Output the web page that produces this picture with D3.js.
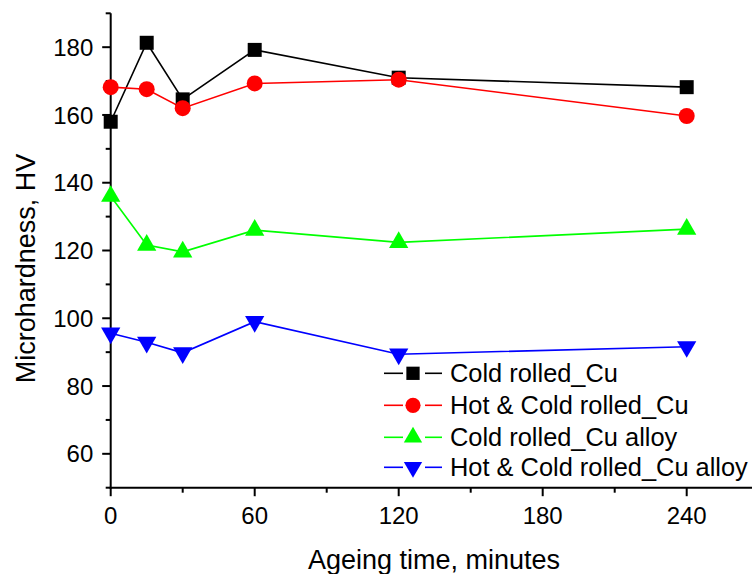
<!DOCTYPE html>
<html>
<head>
<meta charset="utf-8">
<script src="https://cdn.jsdelivr.net/npm/d3@7/dist/d3.min.js"></script>
<style>
  html, body { margin: 0; padding: 0; background: #fff; }
  svg { display: block; }
  text { font-family: "Liberation Sans", Arial, sans-serif; fill: #000; }
</style>
</head>
<body>
<svg id="chart" width="752" height="574"></svg>
<script>
// ---- data ----
const times = [0, 15, 30, 60, 120, 240];
const seriesNames = ["Cold rolled_Cu", "Hot & Cold rolled_Cu", "Cold rolled_Cu alloy", "Hot & Cold rolled_Cu alloy"];
const coldCu = [158.0, 181.3, 164.6, 179.2, 171.0, 168.2];
const hotColdCu = [168.2, 167.6, 162.0, 169.3, 170.4, 159.7];
const coldAlloy = [136.0, 121.6, 119.6, 126.0, 122.4, 126.3];
const hotColdAlloy = [95.6, 92.9, 89.8, 99.0, 89.4, 91.6];
const xTicks = [0, 60, 120, 180, 240];
const xMinor = [30, 90, 150, 210];
const yTicks = [60, 80, 100, 120, 140, 160, 180];
const yMinor = [50, 70, 90, 110, 130, 150, 170, 190];

const colors = ["#000000", "#ff0000", "#00ff00", "#0000ff"];
const symbols = [d3.symbolSquare, d3.symbolCircle, d3.symbolTriangle, "triDown"];
const values = [coldCu, hotColdCu, coldAlloy, hotColdAlloy];

const svg = d3.select("#chart");
const x = d3.scaleLinear().domain([0, 270]).range([110.7, 758.7]);
const y = d3.scaleLinear().domain([50, 190]).range([487.7, 13.3]);

// axes
const axisColor = "#000";
const gx = svg.append("g").attr("transform", `translate(0,${y(50)})`);
gx.append("line").attr("x1", x(0) - 1).attr("x2", 752).attr("y1", 0).attr("y2", 0)
  .attr("stroke", axisColor).attr("stroke-width", 2);
xTicks.forEach(t => {
  gx.append("line").attr("x1", x(t)).attr("x2", x(t)).attr("y1", 0).attr("y2", 8.5)
    .attr("stroke", axisColor).attr("stroke-width", 2);
  gx.append("text").attr("x", x(t)).attr("y", 36).attr("text-anchor", "middle")
    .attr("font-size", 24).text(t);
});
xMinor.forEach(t => {
  gx.append("line").attr("x1", x(t)).attr("x2", x(t)).attr("y1", 0).attr("y2", 5)
    .attr("stroke", axisColor).attr("stroke-width", 2);
});

const gy = svg.append("g").attr("transform", `translate(${x(0)},0)`);
gy.append("line").attr("x1", 0).attr("x2", 0).attr("y1", y(190)).attr("y2", y(50) + 1)
  .attr("stroke", axisColor).attr("stroke-width", 2);
yTicks.forEach(t => {
  gy.append("line").attr("x1", -8.5).attr("x2", 0).attr("y1", y(t)).attr("y2", y(t))
    .attr("stroke", axisColor).attr("stroke-width", 2);
  gy.append("text").attr("x", -17.4).attr("y", y(t) + 8.6).attr("text-anchor", "end")
    .attr("font-size", 24).text(t);
});
yMinor.forEach(t => {
  gy.append("line").attr("x1", -5).attr("x2", 0).attr("y1", y(t)).attr("y2", y(t))
    .attr("stroke", axisColor).attr("stroke-width", 2);
});

// axis titles
svg.append("text").attr("x", 434).attr("y", 569).attr("text-anchor", "middle")
  .attr("font-size", 27).text("Ageing time, minutes");
svg.append("text").attr("transform", "translate(35,268.5) rotate(-90)")
  .attr("text-anchor", "middle").attr("font-size", 27).text("Microhardness, HV");

// symbol path generator
function symPath(i, size) {
  if (symbols[i] === "triDown") {
    return d3.symbol().type(d3.symbolTriangle).size(size)();
  }
  return d3.symbol().type(symbols[i]).size(size)();
}
const sizes = [196, 201, 161, 161];

const plot = svg.append("g");
const line = d3.line().x((d, i) => x(times[i])).y(d => y(d));
values.forEach((vals, i) => {
  plot.append("path").datum(vals).attr("d", line)
    .attr("fill", "none").attr("stroke", colors[i]).attr("stroke-width", 1.6);
});
values.forEach((vals, i) => {
  plot.selectAll(null).data(vals).enter().append("path")
    .attr("d", symPath(i, sizes[i]))
    .attr("transform", (d, j) => `translate(${x(times[j])},${y(d)})` + (symbols[i] === "triDown" ? " rotate(180)" : ""))
    .attr("fill", colors[i]);
});

// legend
const legRows = [373.3, 405.3, 437.3, 467.3];
const leg = svg.append("g");
seriesNames.forEach((name, i) => {
  const cy = legRows[i];
  leg.append("line").attr("x1", 384).attr("x2", 403).attr("y1", cy).attr("y2", cy)
    .attr("stroke", colors[i]).attr("stroke-width", 1.6);
  leg.append("line").attr("x1", 425).attr("x2", 442).attr("y1", cy).attr("y2", cy)
    .attr("stroke", colors[i]).attr("stroke-width", 1.6);
  leg.append("path").attr("d", symPath(i, sizes[i] * 0.9))
    .attr("transform", `translate(413,${cy})` + (symbols[i] === "triDown" ? " rotate(180)" : ""))
    .attr("fill", colors[i]);
  leg.append("text").attr("x", 450).attr("y", cy + 8.8).attr("font-size", 25.4).text(name);
});
</script>
</body>
</html>
